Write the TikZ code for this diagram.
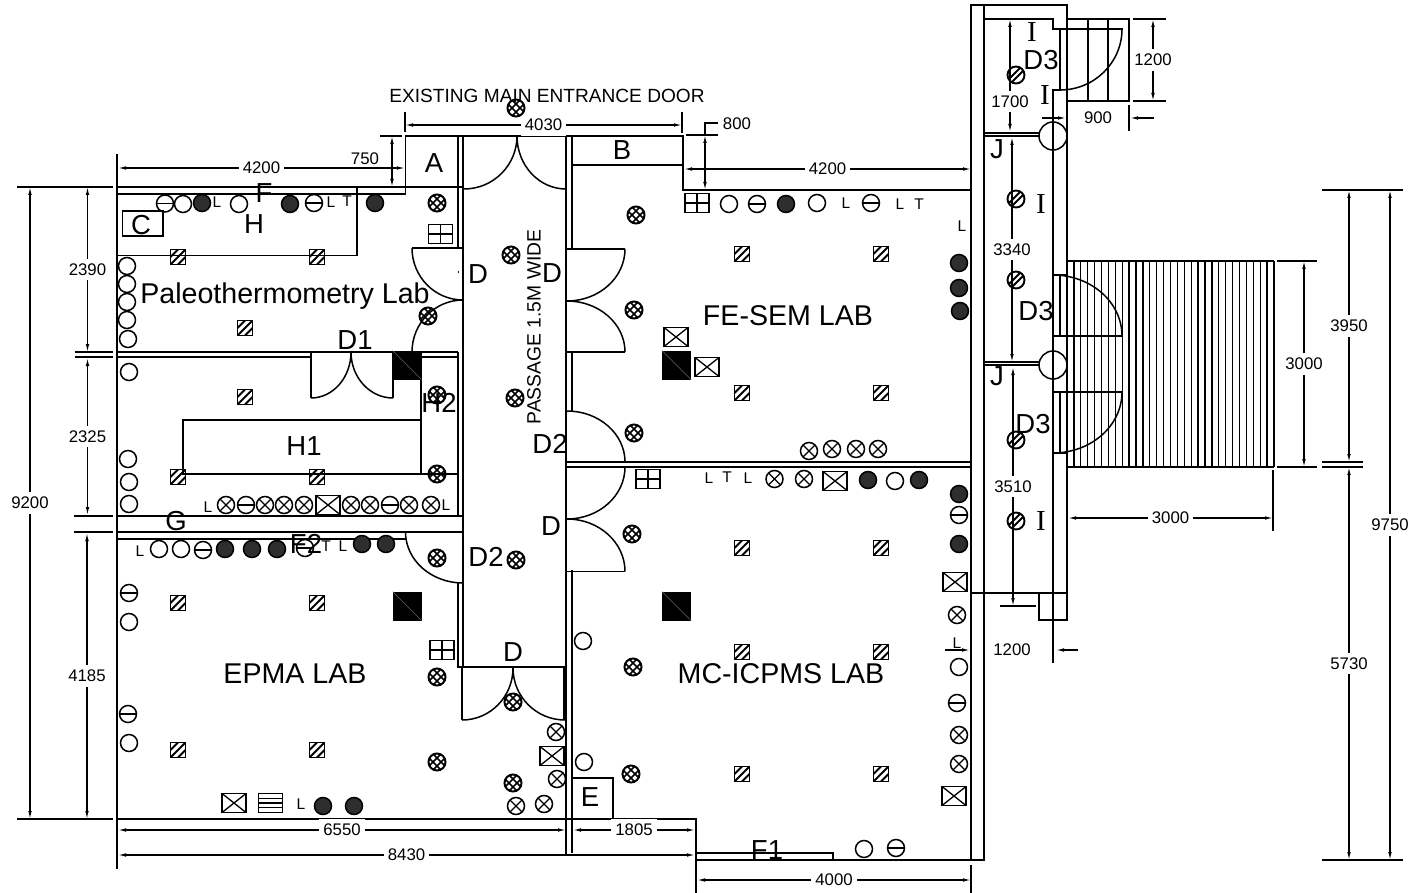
\documentclass[tikz,border=0pt]{standalone}
\usepackage{fontspec}
\setmainfont{Liberation Sans}
\newfontfamily\serifletter{Liberation Serif}
\usetikzlibrary{arrows.meta}

\begin{document}
\begin{tikzpicture}
	[
		x=1pt, y=-1pt,
		>={Latex[length=8pt,width=3.6pt]},
		wall/.style = {line width=1.9pt, line cap=rect},
		thinwall/.style = {line width=1.5pt},
		dim/.style = {line width=1.2pt, <->},
		oneway/.style = {line width=1.2pt, ->},
		extline/.style = {line width=1.3pt},
		dimtext/.style = {fill=white, inner xsep=4pt, inner ysep=5pt, font=\fontsize{16.8}{18}\selectfont},
		tag/.style = {inner sep=0pt, font=\fontsize{27.5}{29}\selectfont},
		roomname/.style = {inner sep=0pt, font=\fontsize{28.6}{30}\selectfont},
		small/.style = {inner sep=0pt, font=\fontsize{15.5}{16}\selectfont},
		bigI/.style = {inner sep=0pt, font=\serifletter\fontsize{29}{31}\selectfont},
		lamp/.style = {shape=circle, draw, line width=1.5pt, minimum size=17pt, inner sep=0pt},
		plainlamp/.style = {lamp},
		barlamp/.style = {lamp, path picture={\draw [line width=1.2pt] (path picture bounding box.west) -- (path picture bounding box.east);}},
		crosslamp/.style = {lamp, path picture={
			\draw [line width=1.3pt] (path picture bounding box.north west) -- (path picture bounding box.south east);
			\draw [line width=1.3pt] (path picture bounding box.north east) -- (path picture bounding box.south west);}},
		darklamp/.style = {lamp, fill=black!82},
		gridlamp/.style = {lamp, line width=2pt, path picture={
			\draw [line width=1.5pt] ([xshift=-4pt]path picture bounding box.north west) -- ([xshift=-4pt]path picture bounding box.south east);
			\draw [line width=1.5pt] ([xshift=4pt]path picture bounding box.north west) -- ([xshift=4pt]path picture bounding box.south east);
			\draw [line width=1.5pt] ([xshift=-4pt]path picture bounding box.north east) -- ([xshift=-4pt]path picture bounding box.south west);
			\draw [line width=1.5pt] ([xshift=4pt]path picture bounding box.north east) -- ([xshift=4pt]path picture bounding box.south west);}},
		slashlamp/.style = {lamp, line width=1.9pt, path picture={
			\draw [line width=1.8pt] ([xshift=-3pt]path picture bounding box.north east) -- ([xshift=-3pt]path picture bounding box.south west);
			\draw [line width=1.8pt] ([xshift=3pt]path picture bounding box.north east) -- ([xshift=3pt]path picture bounding box.south west);}},
		hatchbox/.style = {shape=rectangle, draw, line width=1.5pt, minimum size=15pt, inner sep=0pt, path picture={
			\draw [line width=2pt] (path picture bounding box.north east) -- (path picture bounding box.south west);
			\draw [line width=2pt] (path picture bounding box.north) -- (path picture bounding box.west);
			\draw [line width=2pt] (path picture bounding box.east) -- (path picture bounding box.south);}},
		panel/.style = {shape=rectangle, draw, line width=1.6pt, minimum width=24pt, minimum height=19pt, inner sep=0pt},
		xbox/.style = {panel, path picture={
			\draw [line width=1.3pt] (path picture bounding box.north west) -- (path picture bounding box.south east);
			\draw [line width=1.3pt] (path picture bounding box.north east) -- (path picture bounding box.south west);}},
		gridbox/.style = {panel, path picture={
			\draw [line width=1.3pt] (path picture bounding box.north) -- (path picture bounding box.south);
			\draw [line width=1.3pt] (path picture bounding box.west) -- (path picture bounding box.east);}},
		stripebox/.style = {panel, path picture={
			\draw [line width=1.1pt] ([yshift=-4.75pt]path picture bounding box.north west) -- ([yshift=-4.75pt]path picture bounding box.north east);
			\draw [line width=1.1pt] (path picture bounding box.west) -- (path picture bounding box.east);
			\draw [line width=1.1pt] ([yshift=4.75pt]path picture bounding box.south west) -- ([yshift=4.75pt]path picture bounding box.south east);}},
		blackbox/.style = {shape=rectangle, fill=black, minimum size=29pt, inner sep=0pt, path picture={
			\draw [black!60, line width=0.4pt] (path picture bounding box.north west) -- (path picture bounding box.south east);}}
	]
	
	\useasboundingbox (0,0) rectangle (1410,893);
	
	% ramp and stair hatching
	\foreach \hx in {1067,1073.9,...,1274} {
		\draw [line width=1.3pt] (\hx,261) -- (\hx,467);
	}
	\draw [line width=1.3pt] (1067,261) -- (1274,261);
	\draw [line width=1.3pt] (1067,467) -- (1274,467);
	
	\draw [thinwall] (1067,19) -- (1129,19) -- (1129,101) -- (1067,101) -- (1067,19);
	\draw [thinwall] (1088,19) -- (1088,101);
	\draw [thinwall] (1108,19) -- (1108,101);
	
	% outer walls
	\draw [wall] (117,187) -- (405.5,187);
	\draw [wall] (117,194) -- (405.5,194) -- (405.5,136) -- (683,136) -- (683,190) -- (971,190);
	\draw [wall] (117,155) -- (117,868);
	\draw [wall] (117,819) -- (696,819) -- (696,893);
	\draw [wall] (696,860) -- (984,860);
	\draw [thinwall] (696,853) -- (833,853) -- (833,860);
	\draw [wall] (971,5) -- (971,860);
	\draw [thinwall] (984,5) -- (984,860);
	\draw [wall] (971,5) -- (1067,5) -- (1067,19);
	\draw [wall] (984,19) -- (1053,19) -- (1053,29) -- (1122,29);
	\draw [thinwall] (1060,29) -- (1060,90);
	\draw [wall] (1053,596) -- (1053,90) -- (1060,90);
	\draw [wall] (1067,90) -- (1067,593);
	\draw [wall] (971,593) -- (1067,593);
	\draw [wall] (1039,593) -- (1039,620) -- (1067,620) -- (1067,593);
	
	% corridor walls
	\draw [thinwall] (458,136) -- (458,248);
	\draw [wall] (463,136) -- (463,667);
	\draw [thinwall] (458,352) -- (458,515);
	\draw [thinwall] (458,583) -- (458,667) -- (566,667);
	\draw [wall] (566,136) -- (566,855);
	\draw [thinwall] (572,136) -- (572,248);
	\draw [thinwall] (572,352) -- (572,411);
	\draw [wall] (572,571) -- (572,852);
	\draw [thinwall] (412,248) -- (463,248);
	\draw [thinwall] (567,249) -- (625,249);
	\draw [thinwall] (567,352) -- (625,352);
	\draw [thinwall] (572,165) -- (683,165);
	\draw [thinwall] (405.5,187) -- (463,187);
	\draw [thinwall] (462,667) -- (462,720);
	\draw [thinwall] (564,667) -- (564,720);
	\draw [thinwall] (567,571.5) -- (625,571.5);
	\fill (458.5,272) circle (0.8);
	
	% room partitions
	\draw [thinwall] (117,352) -- (311,352);
	\draw [thinwall] (117,357) -- (311,357);
	\draw [thinwall] (311,352) -- (458,352);
	\draw [thinwall] (421,357) -- (458,357);
	\draw [thinwall] (311,352) -- (311,398);
	\draw [thinwall] (393,352) -- (393,398);
	\draw [wall] (566,462) -- (971,462);
	\draw [wall] (566,467) -- (971,467);
	\draw [wall] (117,516) -- (463,516);
	\draw [wall] (117,532) -- (463,532);
	\draw [thinwall] (117,539) -- (405.5,539) -- (405.5,532);
	\draw [thinwall] (357,187) -- (357,255.5) -- (117,255.5);
	\draw [thinwall] (421,379) -- (421,475);
	\draw [thinwall] (421,420) -- (183,420) -- (183,474) -- (458,474);
	\draw [thinwall] (122.5,211) rectangle (163,236);
	\draw [thinwall] (572,778) -- (613,778) -- (613,819);
	
	% doors
	\draw [thinwall] (412,248) arc [start angle=180, end angle=270, x radius=51pt, y radius=52pt];
	\draw [thinwall] (463,300) arc [start angle=90, end angle=180, x radius=51pt, y radius=52pt];
	\draw [thinwall] (625,249) arc [start angle=0, end angle=-90, x radius=58pt, y radius=52pt];
	\draw [thinwall] (567,301) arc [start angle=90, end angle=0, x radius=58pt, y radius=51pt];
	\draw [thinwall] (567,411) arc [start angle=90, end angle=0, x radius=58pt, y radius=51pt];
	\draw [thinwall] (625,467) arc [start angle=0, end angle=-90, x radius=58pt, y radius=52pt];
	\draw [thinwall] (567,519) arc [start angle=90, end angle=0, x radius=58pt, y radius=52.5pt];
	\draw [thinwall] (517,136) arc [start angle=0, end angle=-90, x radius=53pt, y radius=53pt];
	\draw [thinwall] (517,136) arc [start angle=180, end angle=270, x radius=49pt, y radius=53pt];
	\draw [thinwall] (513,668) arc [start angle=0, end angle=-90, x radius=51pt, y radius=52pt];
	\draw [thinwall] (513,668) arc [start angle=180, end angle=270, x radius=52pt, y radius=52pt];
	\draw [thinwall] (351,352) arc [start angle=0, end angle=-90, x radius=40pt, y radius=46pt];
	\draw [thinwall] (351,352) arc [start angle=180, end angle=270, x radius=42pt, y radius=46pt];
	\draw [thinwall] (405.5,532) arc [start angle=180, end angle=270, x radius=57.5pt, y radius=51pt];
	\draw [thinwall] (1122,29) arc [start angle=0, end angle=-90, x radius=62pt, y radius=61pt];
	\draw [thinwall] (1053,275) arc [start angle=90, end angle=0, x radius=69pt, y radius=61pt];
	\draw [thinwall] (1122,392) arc [start angle=0, end angle=-90, x radius=69pt, y radius=61pt];
	\draw [thinwall] (1053,275) -- (1067,275);
	\draw [thinwall] (1053,453) -- (1067,453);
	\draw [thinwall] (1053,336) -- (1122,336);
	\draw [thinwall] (1053,392) -- (1122,392);
	\draw [thinwall] (1060,275) -- (1060,336);
	\draw [thinwall] (1060,392) -- (1060,453);
	
	% stair landings
	\draw [thinwall] (984,133) -- (1040,133);
	\draw [thinwall] (984,136) -- (1040,136);
	\draw [thinwall] (984,362) -- (1040,362);
	\draw [thinwall] (984,365) -- (1040,365);
	\draw [thinwall] (1053,136) circle (14);
	\draw [thinwall] (1053,365) circle (14);
	
	% dimensions, left side
	\draw [extline] (17,187) -- (113,187);
	\draw [extline] (17,819) -- (113,819);
	\draw [extline] (75,352) -- (113,352);
	\draw [extline] (75,357) -- (113,357);
	\draw [extline] (74,516) -- (113,516);
	\draw [extline] (74,532) -- (113,532);
	\draw [dim] (30,187) -- node [dimtext] (d9200) {9200} (30,819);
	\draw [dim] (87.5,187) -- node [dimtext, pos=0.5] (d2390) {2390} (87.5,352);
	\draw [dim] (87.5,358) -- node [dimtext] (d2325) {2325} (87.5,515);
	\draw [dim] (87,533) -- node [dimtext] (d4185) {4185} (87,819);
	
	% dimensions, top
	\draw [dim] (118,168) -- node [dimtext] (d4200a) {4200} (405,168);
	\draw [dim] (392,136) -- (392,187);
	\draw [extline] (380,136) -- (402,136);
	\node (d750) [dimtext, fill=none] at (365,159) {750};
	\draw [extline] (405,112) -- (405,132);
	\draw [extline] (682,112) -- (682,133);
	\draw [dim] (405,125) -- node [dimtext] (d4030) {4030} (682,125);
	\draw [extline] (718,123) -- (705,123) -- (705,135);
	\draw [extline] (686,135) -- (718,135);
	\draw [dim] (705,135) -- (705,190);
	\node (d800) [dimtext, fill=none] at (737,124) {800};
	\draw [dim] (684,169) -- node [dimtext] (d4200b) {4200} (971,169);
	
	% dimensions, bottom
	\draw [dim] (118,830) -- node [dimtext] (d6550) {6550} (566,830);
	\draw [dim] (573,830) -- node [dimtext] (d1805) {1805} (695,830);
	\draw [dim] (118,855) -- node [dimtext] (d8430) {8430} (695,855);
	\draw [dim] (697,880) -- node [dimtext] (d4000) {4000} (971,880);
	\draw [extline] (971,865) -- (971,893);
	
	% dimensions, stair and ramp
	\draw [extline] (1133,19) -- (1166,19);
	\draw [extline] (1133,101) -- (1166,101);
	\draw [dim] (1153,19) -- node [dimtext] (d1200a) {1200} (1153,101);
	\draw [extline] (1129,105) -- (1129,131);
	\draw [oneway] (1154,118) -- (1130,118);
	\draw [oneway] (1042,118) -- (1066,118);
	\node (d900) [dimtext, fill=none] at (1098,118) {900};
	\draw [dim] (1010,19) -- node [dimtext, pos=0.73] (d1700) {1700} (1010,132);
	\draw [dim] (1012,137) -- node [dimtext] (d3340) {3340} (1012,362);
	\draw [dim] (1013,367) -- node [dimtext, pos=0.5] (d3510) {3510} (1013,606);
	\draw [extline] (1000,606) -- (1036,606);
	\draw [extline] (1053,596) -- (1053,663);
	\draw [oneway] (945,650) -- (970,650);
	\draw [oneway] (1078,650) -- (1056,650);
	\node (d1200b) [dimtext, fill=none] at (1012,650) {1200};
	\node (lstub) [small] at (957,643) {L};
	
	\draw [extline] (1277,261) -- (1317,261);
	\draw [extline] (1277,467) -- (1317,467);
	\draw [dim] (1304,261) -- node [dimtext] (d3000a) {3000} (1304,467);
	\draw [extline] (1322,190) -- (1403,190);
	\draw [extline] (1322,860) -- (1403,860);
	\draw [extline] (1322,462) -- (1363,462);
	\draw [extline] (1322,467) -- (1363,467);
	\draw [dim] (1349,190) -- node [dimtext] (d3950) {3950} (1349,462);
	\draw [dim] (1349,467) -- node [dimtext] (d5730) {5730} (1349,860);
	\draw [dim] (1390,190) -- node [dimtext] (d9750) {9750} (1390,860);
	\draw [extline] (1273,470) -- (1273,531);
	\draw [dim] (1068,518) -- node [dimtext] (d3000b) {3000} (1273,518);
	
	% columns
	\node (col1) [blackbox] at (407,365) {};
	\node (col2) [blackbox] at (407,606) {};
	\node (col3) [blackbox] at (676.5,365) {};
	\node (col4) [blackbox] at (676.5,606) {};
	
	% hatched fittings
	\node (ha1) [hatchbox] at (178,257) {};
	\node (ha2) [hatchbox] at (317,257) {};
	\node (ha3) [hatchbox] at (245,328) {};
	\node (ha4) [hatchbox] at (245,397) {};
	\node (ha5) [hatchbox] at (178,477) {};
	\node (ha6) [hatchbox] at (317,477) {};
	\node (ha7) [hatchbox] at (178,603) {};
	\node (ha8) [hatchbox] at (317,603) {};
	\node (ha9) [hatchbox] at (178,750) {};
	\node (ha10) [hatchbox] at (317,750) {};
	\node (ha11) [hatchbox] at (742,254) {};
	\node (ha12) [hatchbox] at (881,254) {};
	\node (ha13) [hatchbox] at (742,393) {};
	\node (ha14) [hatchbox] at (881,393) {};
	\node (ha15) [hatchbox] at (742,548) {};
	\node (ha16) [hatchbox] at (881,548) {};
	\node (ha17) [hatchbox] at (742,652) {};
	\node (ha18) [hatchbox] at (881,652) {};
	\node (ha19) [hatchbox] at (742,774) {};
	\node (ha20) [hatchbox] at (881,774) {};
	
	% grid lamps
	\node (gl1) [gridlamp] at (437,203) {};
	\node (gl2) [gridlamp] at (428,316) {};
	\node (gl3) [gridlamp] at (437,395) {};
	\node (gl4) [gridlamp] at (437,474) {};
	\node (gl5) [gridlamp] at (511,255) {};
	\node (gl6) [gridlamp] at (516,108) {};
	\node (gl7) [gridlamp] at (636,215) {};
	\node (gl8) [gridlamp] at (634,310) {};
	\node (gl9) [gridlamp] at (515,398) {};
	\node (gl10) [gridlamp] at (634,433) {};
	\node (gl11) [gridlamp] at (632,534) {};
	\node (gl12) [gridlamp] at (437,558) {};
	\node (gl13) [gridlamp] at (516,560) {};
	\node (gl14) [gridlamp] at (437,677) {};
	\node (gl15) [gridlamp] at (513,702) {};
	\node (gl16) [gridlamp] at (633,667) {};
	\node (gl17) [gridlamp] at (437,762) {};
	\node (gl18) [gridlamp] at (631,774) {};
	\node (gl19) [gridlamp] at (513,783) {};
	
	% slashed lamps
	\node (sl1) [slashlamp] at (1016,75) {};
	\node (sl2) [slashlamp] at (1016,199) {};
	\node (sl3) [slashlamp] at (1016,280) {};
	\node (sl4) [slashlamp] at (1016,440) {};
	\node (sl5) [slashlamp] at (1016,521) {};
	
	% plain lamps
	\node (pl1) [plainlamp] at (183,204) {};
	\node (pl2) [plainlamp] at (239,204) {};
	\node (pl3) [plainlamp] at (127,266) {};
	\node (pl4) [plainlamp] at (127,284) {};
	\node (pl5) [plainlamp] at (127,302) {};
	\node (pl6) [plainlamp] at (127,320) {};
	\node (pl7) [plainlamp] at (128,339) {};
	\node (pl8) [plainlamp] at (129,372) {};
	\node (pl9) [plainlamp] at (128,459) {};
	\node (pl10) [plainlamp] at (129,482) {};
	\node (pl11) [plainlamp] at (129,504) {};
	\node (pl12) [plainlamp] at (159,549) {};
	\node (pl13) [plainlamp] at (181,549) {};
	\node (pl14) [plainlamp] at (129,622) {};
	\node (pl15) [plainlamp] at (129,743) {};
	\node (pl16) [plainlamp] at (583,641) {};
	\node (pl17) [plainlamp] at (584,762) {};
	\node (pl18) [plainlamp] at (729,204) {};
	\node (pl19) [plainlamp] at (817,203) {};
	\node (pl20) [plainlamp] at (895,481) {};
	\node (pl21) [plainlamp] at (959,667) {};
	\node (pl22) [plainlamp] at (864,849) {};
	
	% barred lamps
	\node (bl1) [barlamp] at (165,203.5) {};
	\node (bl2) [barlamp] at (314,203) {};
	\node (bl3) [barlamp] at (246,505) {};
	\node (bl4) [barlamp] at (390,505) {};
	\node (bl5) [barlamp] at (203,550) {};
	\node (bl6) [barlamp] at (305,548) {};
	\node (bl7) [barlamp] at (129,593) {};
	\node (bl8) [barlamp] at (128,714) {};
	\node (bl9) [barlamp] at (757,204) {};
	\node (bl10) [barlamp] at (871,203) {};
	\node (bl11) [barlamp] at (959,515) {};
	\node (bl12) [barlamp] at (957,703) {};
	\node (bl13) [barlamp] at (896,848) {};
	
	% crossed lamps
	\node (xl1) [crosslamp] at (226,505) {};
	\node (xl2) [crosslamp] at (265,505) {};
	\node (xl3) [crosslamp] at (284,505) {};
	\node (xl4) [crosslamp] at (304,505) {};
	\node (xl5) [crosslamp] at (351,505) {};
	\node (xl6) [crosslamp] at (370,505) {};
	\node (xl7) [crosslamp] at (409,505) {};
	\node (xl8) [crosslamp] at (431,505) {};
	\node (xl9) [crosslamp] at (556,732) {};
	\node (xl10) [crosslamp] at (557,779) {};
	\node (xl11) [crosslamp] at (516,806) {};
	\node (xl12) [crosslamp] at (544,804) {};
	\node (xl13) [crosslamp] at (809,451) {};
	\node (xl14) [crosslamp] at (832,449) {};
	\node (xl15) [crosslamp] at (856,449) {};
	\node (xl16) [crosslamp] at (878,449) {};
	\node (xl17) [crosslamp] at (774.5,479) {};
	\node (xl18) [crosslamp] at (804,479) {};
	\node (xl19) [crosslamp] at (957,615) {};
	\node (xl20) [crosslamp] at (959,735) {};
	\node (xl21) [crosslamp] at (959,764) {};
	
	% dark lamps
	\node (dl1) [darklamp] at (202,203) {};
	\node (dl2) [darklamp] at (290,204) {};
	\node (dl3) [darklamp] at (375,203) {};
	\node (dl4) [darklamp] at (225,549) {};
	\node (dl5) [darklamp] at (252,549) {};
	\node (dl6) [darklamp] at (277,549) {};
	\node (dl7) [darklamp] at (362,544) {};
	\node (dl8) [darklamp] at (386,544) {};
	\node (dl9) [darklamp] at (323,806) {};
	\node (dl10) [darklamp] at (354,806) {};
	\node (dl11) [darklamp] at (786,204) {};
	\node (dl12) [darklamp] at (959,263) {};
	\node (dl13) [darklamp] at (959,288) {};
	\node (dl14) [darklamp] at (960,311) {};
	\node (dl15) [darklamp] at (868,480) {};
	\node (dl16) [darklamp] at (919,480) {};
	\node (dl17) [darklamp] at (959,494) {};
	\node (dl18) [darklamp] at (959,544) {};
	
	% panels
	\node (gb1) [gridbox] at (440.5,234) {};
	\node (gb2) [gridbox] at (697,203) {};
	\node (gb3) [gridbox] at (648,479) {};
	\node (gb4) [gridbox] at (442,650) {};
	\node (xb1) [xbox] at (328,505) {};
	\node (xb2) [xbox] at (552,756) {};
	\node (xb3) [xbox] at (234,803) {};
	\node (xb4) [xbox] at (676,337) {};
	\node (xb5) [xbox] at (707,367) {};
	\node (xb6) [xbox] at (835,481) {};
	\node (xb7) [xbox] at (955,582) {};
	\node (xb8) [xbox] at (954,796) {};
	\node (sb1) [stripebox] at (270.5,803) {};
	
	% small letters
	\node (s1) [small] at (217,202) {L};
	\node (s2) [small] at (331,202) {L};
	\node (s3) [small] at (347,201) {T};
	\node (s4) [small] at (208,507) {L};
	\node (s5) [small] at (446,505) {L};
	\node (s6) [small] at (140,551) {L};
	\node (s7) [small] at (326,546) {T};
	\node (s8) [small] at (343,546) {L};
	\node (s9) [small] at (301,804) {L};
	\node (s10) [small] at (846,203) {L};
	\node (s11) [small] at (900,204) {L};
	\node (s12) [small] at (919,204) {T};
	\node (s13) [small] at (962,226) {L};
	\node (s14) [small] at (709,478) {L};
	\node (s15) [small] at (727,477) {T};
	\node (s16) [small] at (748,478) {L};
	
	% room letters
	\node (tagA) [tag] at (434,163) {A};
	\node (tagB) [tag] at (622,150) {B};
	\node (tagC) [tag] at (141,225) {C};
	\node (tagE) [tag] at (590,797) {E};
	\node (tagF) [tag] at (264,193) {F};
	\node (tagG) [tag] at (176,521) {G};
	\node (tagH) [tag] at (254,224) {H};
	\node (tagHa) [tag] at (304,446) {H1};
	\node (tagHb) [tag] at (439,403) {H2};
	\node (tagFa) [tag] at (767,850) {F1};
	\node (tagFb) [tag] at (306,544) {F2};
	\node (tagDa) [tag] at (478,274) {D};
	\node (tagDb) [tag] at (552,273) {D};
	\node (tagDc) [tag] at (551,526) {D};
	\node (tagDd) [tag] at (513,652) {D};
	\node (tagDe) [tag] at (355,340) {D1};
	\node (tagDf) [tag] at (550,444) {D2};
	\node (tagDg) [tag] at (486,557) {D2};
	\node (tagDh) [tag] at (1041,60) {D3};
	\node (tagDi) [tag] at (1036,311) {D3};
	\node (tagDj) [tag] at (1033,424) {D3};
	\node (tagJa) [tag] at (997,149) {J};
	\node (tagJb) [tag] at (997,376) {J};
	\node (tagIa) [bigI] at (1032,32) {I};
	\node (tagIb) [bigI] at (1045,95) {I};
	\node (tagIc) [bigI] at (1041,204) {I};
	\node (tagId) [bigI] at (1041,521) {I};
	
	% room names
	\node (paleo) [roomname] at (285,296) {Paleothermometry Lab};
	\node (fesem) [roomname] at (788,316) {FE-SEM LAB};
	\node (epma) [roomname] at (295,674) {EPMA LAB};
	\node (mcicpms) [roomname] at (781,674) {MC-ICPMS LAB};
	\node (maindoor) [inner sep=0pt, font=\fontsize{19.1}{21}\selectfont] at (547,96) {EXISTING MAIN ENTRANCE DOOR};
	\node (passage) [inner sep=0pt, rotate=90, font=\fontsize{19.3}{21}\selectfont] at (534,327) {PASSAGE 1.5M WIDE};
	
\end{tikzpicture}
\end{document}
